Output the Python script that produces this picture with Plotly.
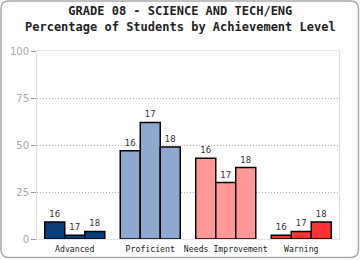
import plotly.graph_objects as go

categories = ["Advanced", "Proficient", "Needs Improvement", "Warning"]
years = ["16", "17", "18"]
values_16 = [9, 47, 43, 2]
values_17 = [2, 62, 30, 4]
values_18 = [4, 49, 38, 9]
colors = ["#0a3d7a", "#8fa8cf", "#ff9999", "#ff3333"]
y_ticks = [0, 25, 50, 75, 100]
title1 = "GRADE 08 - SCIENCE AND TECH/ENG"
title2 = "Percentage of Students by Achievement Level"

W, H = 360, 260
L, R, T, B = 37, 21, 51, 21
PW, PH = W - L - R, H - T - B

def px(x):
    return (x - L) / PW

def py(y):
    return (H - B - y) / PH

fig = go.Figure()
for yr, vals in zip(years, [values_16, values_17, values_18]):
    fig.add_trace(go.Bar(
        x=categories, y=vals, name=yr,
        marker=dict(color=colors, line=dict(color="#000000", width=1.5)),
        text=[yr] * len(vals), textposition="outside", cliponaxis=False,
        textfont=dict(family="DejaVu Sans", size=8.5, color="#333333"),
    ))

# outer rounded frame
r = 8
x0, y0, x1, y1 = 1, 1, 358.5, 257.5
path = (f"M {px(x0+r)},{py(y0)} L {px(x1-r)},{py(y0)} "
        f"Q {px(x1)},{py(y0)} {px(x1)},{py(y0+r)} "
        f"L {px(x1)},{py(y1-r)} Q {px(x1)},{py(y1)} {px(x1-r)},{py(y1)} "
        f"L {px(x0+r)},{py(y1)} Q {px(x0)},{py(y1)} {px(x0)},{py(y1-r)} "
        f"L {px(x0)},{py(y0+r)} Q {px(x0)},{py(y0)} {px(x0+r)},{py(y0)} Z")
fig.add_shape(type="path", path=path, xref="paper", yref="paper",
              line=dict(color="#aaaaaa", width=1.5), layer="below")

fig.add_annotation(text=f"<b>{title1}</b><br><b>{title2}</b>",
                   x=0.5 * (px(0) + px(W)), y=py(19.5),
                   xref="paper", yref="paper", showarrow=False,
                   xanchor="center", yanchor="middle", align="center",
                   font=dict(family="DejaVu Sans Mono", size=12, color="#222222"))

fig.update_layout(
    width=W, height=H, margin=dict(l=L, r=R, t=T, b=B, pad=0, autoexpand=False),
    paper_bgcolor="white", plot_bgcolor="white",
    barmode="group", bargap=0.205, bargroupgap=0,
    showlegend=False,
)
fig.update_xaxes(
    showline=True, mirror=True, linecolor="#e6e6e6", linewidth=1,
    showgrid=False, ticks="", ticklen=0, ticklabelstandoff=2, automargin=False,
    tickfont=dict(family="DejaVu Sans Mono", size=8.2, color="#222222"),
)
fig.update_yaxes(
    range=[0, 100], tickvals=y_ticks, showline=True, mirror=True,
    linecolor="#e0e0e0", linewidth=1, automargin=False,
    showgrid=True, gridcolor="#aaaaaa", griddash="1px,2px", gridwidth=1,
    zeroline=False, ticks="outside", ticklen=5, tickcolor="#999999",
    tickfont=dict(family="DejaVu Sans", size=10, color="#aaaaaa"),
)

fig.write_html("out.html")
